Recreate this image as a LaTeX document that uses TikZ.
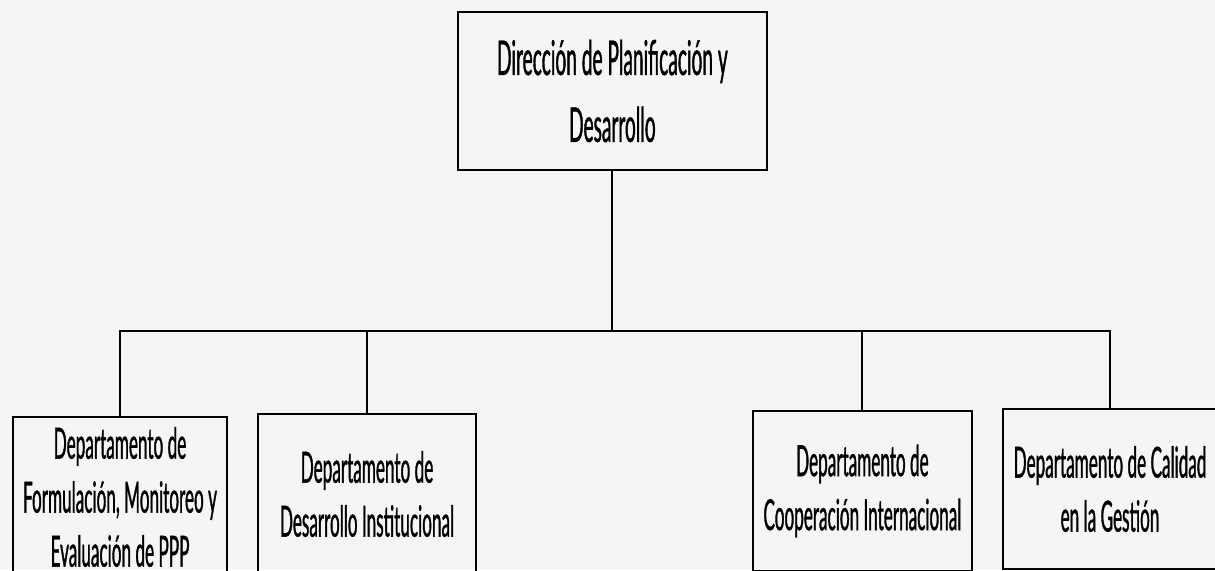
\documentclass[tikz,border=0pt]{standalone}
\usepackage{fontspec}
\setmainfont{Lato}[FakeStretch=0.40, FakeBold=0.8]

\begin{document}
\begin{tikzpicture}[line width=1.4pt]
\tikzset{
  head/.style={
    draw, rectangle,
    minimum width=7.725cm, minimum height=3.95cm,
    align=center, font=\fontsize{34}{47.6}\selectfont
  },
  unit/.style={
    draw, rectangle, anchor=north,
    minimum width=5.4cm, minimum height=4cm,
    align=center, font=\fontsize{30.5}{38.4}\selectfont
  }
}
\fill[black!4] (0,0) rectangle (30.375,-14.25);
\clip (0,0) rectangle (30.375,-14.25);

\node[head] (dir) at (15.31,-2.275) {Dirección de Planificación y \\ Desarrollo};
\node[unit, minimum width=5.35cm]  (fme) at (3.0,-10.4)     {Departamento de \\ Formulación, Monitoreo y \\ Evaluación de PPP};
\node[unit, minimum width=5.45cm]  (dei) at (9.175,-10.325) {Departamento de \\ Desarrollo Institucional};
\node[unit, minimum width=5.475cm] (coi) at (21.56,-10.25)  {Departamento de \\ Cooperación Internacional};
\node[unit, minimum width=5.35cm]  (cag) at (27.75,-10.2)   {Departamento de Calidad \\ en la Gestión};

\coordinate (bus) at (15.31,-8.275);
\draw (dir) -- (bus);
\draw (bus) -| (fme);
\draw (bus) -| (dei);
\draw (bus) -| (coi);
\draw (bus) -| (cag);
\end{tikzpicture}
\end{document}
